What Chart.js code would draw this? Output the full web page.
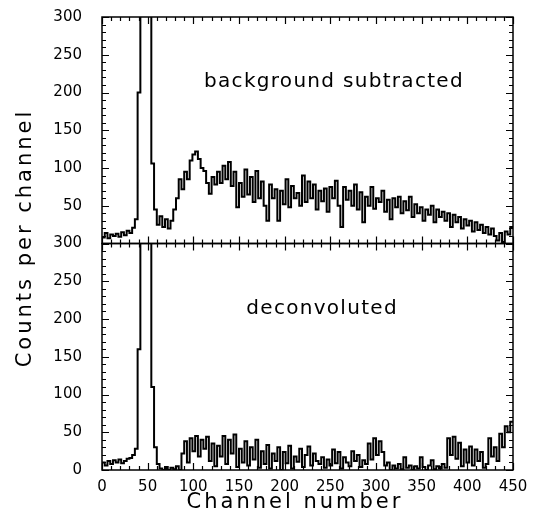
<!DOCTYPE html>
<html>
<head>
<meta charset="utf-8">
<script src="https://cdn.jsdelivr.net/npm/chart.js@4"></script>
<style>
  html, body { margin: 0; padding: 0; background: #fff; }
  #wrap { width: 537px; height: 523px; }
</style>
</head>
<body>
<div id="wrap"><canvas id="myChart" width="537" height="523"></canvas></div>
<script>
// Bin start (3 channels per bin)
const channels = Array.from({ length: 150 }, (_, i) => i * 3);

// Top panel: background subtracted (counts per bin)
const bgSubtracted = [
  8, 14, 7, 12, 10, 13, 9, 15, 11, 17,
  14, 21, 32, 200, 600, 600, 600, 600, 106, 45,
  25, 36, 22, 32, 20, 30, 45, 60, 85, 72,
  95, 85, 110, 118, 122, 112, 100, 96, 80, 66,
  88, 78, 95, 80, 103, 85, 108, 76, 95, 48,
  80, 62, 98, 65, 88, 55, 96, 60, 82, 50,
  30, 78, 60, 72, 30, 70, 52, 85, 48, 76,
  60, 67, 50, 90, 55, 82, 60, 78, 45, 70,
  56, 73, 42, 75, 60, 83, 50, 22, 75, 58,
  70, 50, 78, 45, 68, 28, 62, 50, 75, 46,
  60, 55, 70, 42, 58, 32, 60, 48, 62, 40,
  56, 44, 62, 35, 52, 40, 48, 30, 45, 38,
  50, 28, 45, 35, 42, 30, 40, 22, 38, 28,
  35, 20, 32, 24, 30, 16, 28, 18, 25, 14,
  22, 12, 20, 10, 4, 14, 2, 16, 12, 22
];

// Bottom panel: deconvoluted
const deconvoluted = [
  10, 6, 12, 8, 13, 10, 14, 9, 12, 15,
  16, 20, 28, 160, 600, 600, 600, 600, 110, 30,
  8, 2, 0, 4, 0, 3, 1, 5, 0, 22,
  38, 10, 42, 25, 45, 18, 40, 28, 44, 12,
  35, 5, 32, 18, 45, 8, 40, 22, 47, 4,
  28, 10, 38, 6, 30, 14, 40, 3, 25, 8,
  33, 2, 22, 12, 30, 0, 24, 9, 32, 2,
  18, 11, 28, 4, 20, 31, 6, 22, 12, 8,
  17, 3, 14, 6, 27, 9, 24, 2, 17, 10,
  5, 25, 12, 20, 4, 13, 8, 35, 14, 42,
  20, 38, 24, 6, 10, 0, 6, 2, 8, 1,
  17, 3, 6, 0, 5, 2, 17, 4, 0, 6,
  13, 1, 5, 2, 8, 3, 42, 20, 44, 15,
  36, 5, 27, 10, 31, 6, 27, 12, 24, 3,
  8, 42, 18, 30, 12, 48, 30, 58, 50, 64
];

const panelLabels = ['background subtracted', 'deconvoluted'];
const xTitle = 'Channel number';
const yTitle = 'Counts per channel';
const X_MAX = 450;
const Y_MAX = 300;

function toPoints(vals) {
  const pts = channels.map((c, i) => ({ x: c, y: vals[i] }));
  pts.push({ x: X_MAX, y: vals[vals.length - 1] });
  return pts;
}

const FONT = '"DejaVu Sans", sans-serif';

// clip each series to its own panel, draw frames, inward ticks and texts
const panelFrame = {
  id: 'panelFrame',
  beforeDatasetDraw(chart, args) {
    const s = chart.scales[args.meta.yAxisID];
    const a = chart.chartArea;
    chart.ctx.save();
    chart.ctx.beginPath();
    chart.ctx.rect(a.left, s.top, a.right - a.left, s.bottom - s.top);
    chart.ctx.clip();
  },
  afterDatasetDraw(chart) {
    chart.ctx.restore();
  },
  afterDraw(chart) {
    const ctx = chart.ctx;
    const xs = chart.scales.x;
    const L = chart.chartArea.left, R = chart.chartArea.right;
    ctx.save();
    ctx.strokeStyle = '#000';
    ['yTop', 'yBot'].forEach(id => {
      const ys = chart.scales[id];
      ctx.lineWidth = 1.5;
      ctx.strokeRect(L, ys.top, R - L, ys.bottom - ys.top);
      ctx.lineWidth = 1.2;
      ctx.beginPath();
      for (let c = 0; c <= X_MAX; c += 10) {
        const px = Math.round(xs.getPixelForValue(c)) + 0.5;
        const len = c % 50 === 0 ? 7 : 4;
        ctx.moveTo(px, ys.top); ctx.lineTo(px, ys.top + len);
        ctx.moveTo(px, ys.bottom); ctx.lineTo(px, ys.bottom - len);
      }
      for (let v = 0; v <= Y_MAX; v += 10) {
        const py = Math.round(ys.getPixelForValue(v)) + 0.5;
        const len = v % 50 === 0 ? 7 : 4;
        ctx.moveTo(L, py); ctx.lineTo(L + len, py);
        ctx.moveTo(R, py); ctx.lineTo(R - len, py);
      }
      ctx.stroke();
    });

    ctx.fillStyle = '#000';
    ctx.textAlign = 'center';
    ctx.textBaseline = 'middle';
    ctx.font = '20px ' + FONT;
    ctx.letterSpacing = '1.3px';
    ctx.fillText(panelLabels[0], xs.getPixelForValue(254), chart.scales.yTop.getPixelForValue(214));
    ctx.fillText(panelLabels[1], xs.getPixelForValue(241), chart.scales.yBot.getPixelForValue(213));

    ctx.font = '21px ' + FONT;
    ctx.letterSpacing = '3px';
    ctx.fillText(xTitle, 295, 503);
    ctx.translate(26, 238);
    ctx.rotate(-Math.PI / 2);
    ctx.fillText(yTitle, 0, 0);
    ctx.restore();
  }
};

function yAxis(weight, hideZero) {
  return {
    type: 'linear',
    position: 'left',
    stack: 'panels',
    stackWeight: 1,
    weight: weight,
    min: 0,
    max: Y_MAX,
    grid: { display: false, drawTicks: false },
    border: { display: false },
    ticks: {
      stepSize: 50,
      padding: 20,
      color: '#000',
      font: { family: FONT, size: 15 },
      callback: v => (hideZero && v === 0) ? '' : v
    },
    afterFit: s => {
      s.width = 102;
      s.paddingTop = 0;
      s.paddingBottom = 0;
    }
  };
}

const ctx = document.getElementById('myChart').getContext('2d');
const chart = new Chart(ctx, {
  type: 'line',
  data: {
    datasets: [
      {
        label: panelLabels[0],
        data: toPoints(bgSubtracted),
        yAxisID: 'yTop',
        borderColor: '#000',
        borderWidth: 2,
        pointRadius: 0,
        stepped: true,
        fill: false
      },
      {
        label: panelLabels[1],
        data: toPoints(deconvoluted),
        yAxisID: 'yBot',
        borderColor: '#000',
        borderWidth: 2,
        pointRadius: 0,
        stepped: true,
        fill: false
      }
    ]
  },
  options: {
    responsive: false,
    animation: false,
    layout: { padding: { top: 17, right: 24, left: 0, bottom: 0 } },
    plugins: {
      legend: { display: false },
      tooltip: { enabled: false }
    },
    scales: {
      x: {
        type: 'linear',
        min: 0,
        max: X_MAX,
        grid: { display: false, drawTicks: false },
        border: { display: false },
        ticks: {
          stepSize: 50,
          padding: 8,
          autoSkip: false,
          maxRotation: 0,
          color: '#000',
          font: { family: FONT, size: 15 }
        },
        afterFit: s => { s.height = 53; }
      },
      yTop: yAxis(1, true),
      yBot: yAxis(0, false)
    }
  },
  plugins: [panelFrame]
});
</script>
</body>
</html>
